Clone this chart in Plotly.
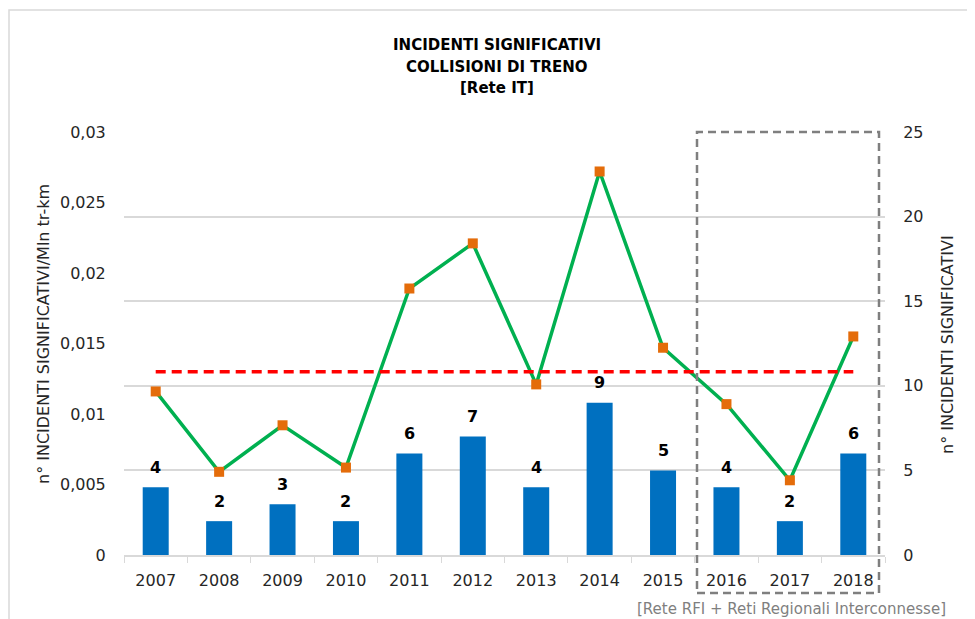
import plotly.graph_objects as go

# data
anni = ['2007', '2008', '2009', '2010', '2011', '2012', '2013', '2014', '2015', '2016', '2017', '2018']
n_incidenti = [4, 2, 3, 2, 6, 7, 4, 9, 5, 4, 2, 6]
tasso = [0.0116, 0.0059, 0.0092, 0.0062, 0.0189, 0.0221, 0.0121, 0.0272, 0.0147, 0.0107, 0.0053, 0.0155]
soglia = 0.013
left_ticks = [0, 0.005, 0.01, 0.015, 0.02, 0.025, 0.03]
left_ticktext = ['0', '0,005', '0,01', '0,015', '0,02', '0,025', '0,03']
title_lines = ['INCIDENTI SIGNIFICATIVI', 'COLLISIONI DI TRENO', '[Rete IT]']

FONT = 'DejaVu Sans'
OFF = 8  # page body margin
W, H = 975 - OFF, 619 - OFF
L, R, T, B = 124 - OFF, 90, 132 - OFF, 64
pw, ph = W - L - R, H - T - B

# helpers: screen pixel (as in the reference picture) -> paper coords
def px_x(x):
    return (x - OFF - L) / pw

def px_y(y):
    return (H - B - (y - OFF)) / ph

fig = go.Figure()

# bars on the right-hand axis (primary y placed on the right)
fig.add_trace(go.Bar(
    x=anni, y=n_incidenti,
    marker=dict(color='#0070C0', line=dict(width=0)),
    width=0.41, yaxis='y', showlegend=False
))

# rate line on the left axis
fig.add_trace(go.Scatter(
    x=anni, y=tasso, mode='lines+markers', yaxis='y2',
    line=dict(color='#00B050', width=3.5),
    marker=dict(symbol='square', size=10, color='#E46C0A'),
    showlegend=False
))

# reference threshold
fig.add_trace(go.Scatter(
    x=[anni[0], anni[-1]], y=[soglia, soglia], mode='lines', yaxis='y2',
    line=dict(color='#FF0000', width=3.5, dash='10px,6px'),
    showlegend=False
))

annotations = []
for i, v in enumerate(n_incidenti):
    annotations.append(dict(x=i, y=v, xref='x', yref='y', text='<b>' + str(v) + '</b>', showarrow=False,
                            yshift=20, font=dict(family=FONT, size=16, color='black')))

for i, t in enumerate(title_lines):
    annotations.append(dict(x=px_x(497), y=px_y(45 + i * 21.5), xref='paper', yref='paper', text='<b>' + t + '</b>',
                            showarrow=False, xanchor='center', yanchor='middle',
                            font=dict(family=FONT, size=15, color='black')))

annotations.append(dict(x=px_x(43), y=px_y(334), xref='paper', yref='paper', textangle=-90,
                        text='n° INCIDENTI SIGNIFICATIVI/Mln tr-km', showarrow=False,
                        xanchor='center', yanchor='middle', font=dict(family=FONT, size=16, color='#262626')))
annotations.append(dict(x=px_x(947), y=px_y(344), xref='paper', yref='paper', textangle=-90,
                        text='n° INCIDENTI SIGNIFICATIVI', showarrow=False,
                        xanchor='center', yanchor='middle', font=dict(family=FONT, size=16, color='#262626')))
annotations.append(dict(x=px_x(948), y=px_y(609), xref='paper', yref='paper',
                        text='[Rete RFI + Reti Regionali Interconnesse]', showarrow=False,
                        xanchor='right', yanchor='middle', font=dict(family=FONT, size=15, color='#7f7f7f')))

shapes = [
    # dashed box around 2016-2018
    dict(type='rect', xref='paper', yref='paper', x0=px_x(697), x1=px_x(879), y0=px_y(593), y1=1.0,
         line=dict(color='#7f7f7f', width=2.5, dash='8px,5px'), fillcolor='rgba(0,0,0,0)', layer='above'),
    # chart border
    dict(type='rect', xref='paper', yref='paper', x0=px_x(9), x1=px_x(1000), y0=px_y(660), y1=px_y(10),
         line=dict(color='#d9d9d9', width=1.5), fillcolor='rgba(0,0,0,0)'),
]

fig.update_layout(
    width=W, height=H,
    margin=dict(l=L, r=R, t=T, b=B),
    paper_bgcolor='white', plot_bgcolor='white',
    font=dict(family=FONT, size=16, color='#262626'),
    xaxis=dict(type='category', categoryarray=anni, categoryorder='array', range=[-0.5, len(anni) - 0.5],
               showline=True, linecolor='#d9d9d9', linewidth=1.5,
               ticks='outside', tickson='boundaries', ticklen=6, tickcolor='#d9d9d9',
               ticklabelstandoff=10,
               tickfont=dict(size=16, color='#262626'), showgrid=False, tickangle=0),
    yaxis=dict(side='right', range=[0, 25], dtick=5, showgrid=True, gridcolor='#d9d9d9', gridwidth=1.5,
               zeroline=False, showline=False, ticks='outside', ticklen=14, tickcolor='rgba(0,0,0,0)',
               tickfont=dict(size=16, color='#262626')),
    yaxis2=dict(overlaying='y', side='left', range=[0, 0.03], tickvals=left_ticks, ticktext=left_ticktext,
                showgrid=False, zeroline=False, showline=False, ticks='outside', ticklen=14,
                tickcolor='rgba(0,0,0,0)', tickfont=dict(size=16, color='#262626')),
    annotations=annotations,
    shapes=shapes,
)

fig.write_html('out.html')
